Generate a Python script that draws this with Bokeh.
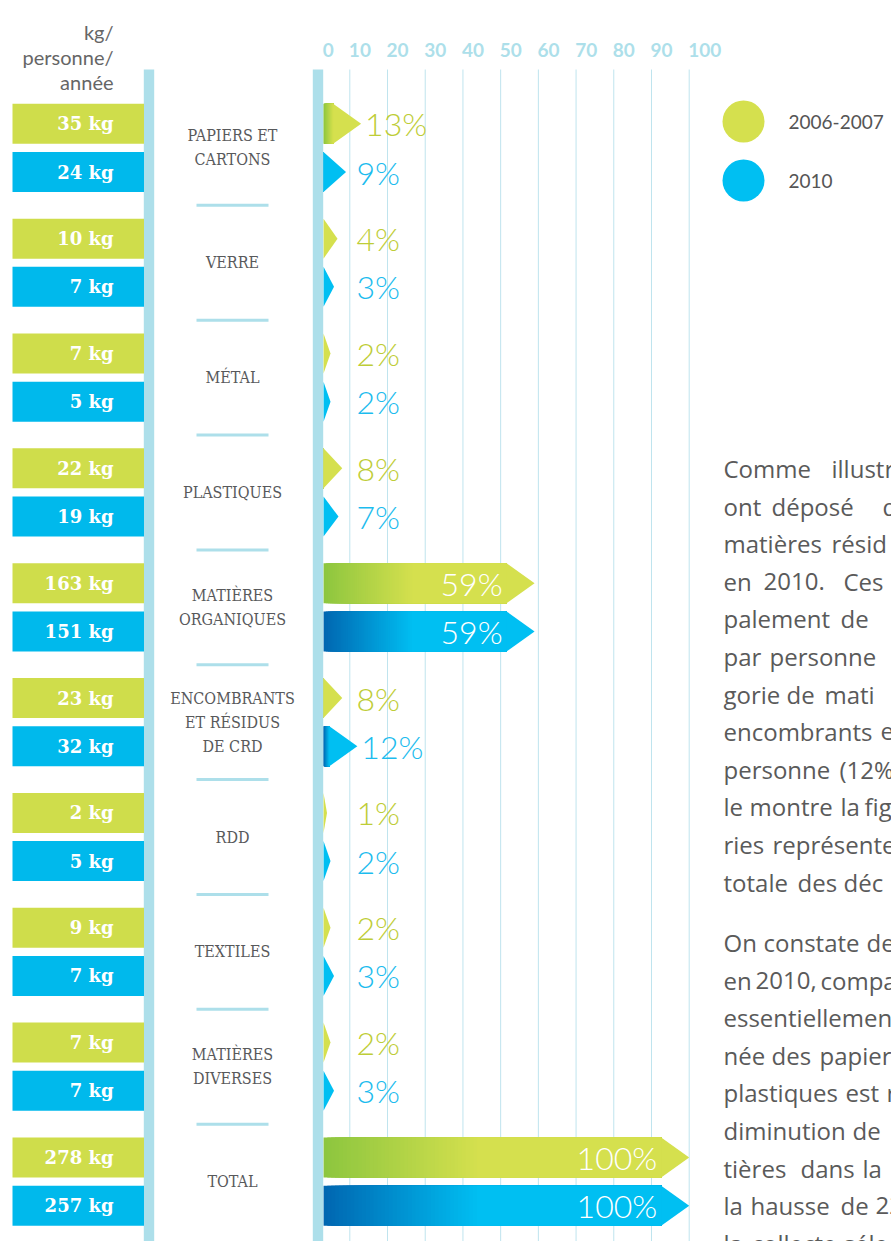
from bokeh.plotting import figure
from bokeh.models import Range1d, ColumnDataSource
from bokeh.core.properties import value
from bokeh.embed import file_html
from bokeh.resources import INLINE

# ---------------- data ----------------
categories = ["PAPIERS ET\nCARTONS", "VERRE", "MÉTAL", "PLASTIQUES",
              "MATIÈRES\nORGANIQUES", "ENCOMBRANTS\nET RÉSIDUS\nDE CRD",
              "RDD", "TEXTILES", "MATIÈRES\nDIVERSES", "TOTAL"]
kg_2006 = [35, 10, 7, 22, 163, 23, 2, 9, 7, 278]
kg_2010 = [24, 7, 5, 19, 151, 32, 5, 7, 7, 257]
pct_2006 = [13, 4, 2, 8, 59, 8, 1, 2, 2, 100]
pct_2010 = [9, 3, 2, 7, 59, 12, 2, 3, 3, 100]
tick_values = [0, 10, 20, 30, 40, 50, 60, 70, 80, 90, 100]
series_names = ["2006-2007", "2010"]
unit_lines = ["kg/", "personne/", "année"]
# visible part of the (page-cropped) paragraph
paragraph_1 = ["Comme illustr", "ont déposé d", "matières résid", "en 2010. Ces",
               "palement de", "par personne", "gorie de mati", "encombrants e",
               "personne (12%", "le montre la fig", "ries représente", "totale des déc"]
paragraph_2 = ["On constate de", "en 2010, compa", "essentiellemen",
               "née des papier", "plastiques est r", "diminution de",
               "tières dans la", "la hausse de 22", "la collecte séle"]

# ---------------- layout (screen pixels -> data units) ----------------
W, H, PAGE = 891, 1241, 0
X0_PX, SX = 311.6, 3.771          # screen x of value 0, px per percent
ROW0_PX, ROW_PX = 147.4, 114.85   # screen y of first category centre, px per row


def ux(px):
    return (px - X0_PX) / SX


def uy(py):
    return (ROW0_PX - py) / ROW_PX


BAR0 = ux(323)           # bars start right of the axis band
HEAD = 28 / SX           # arrow head length
OFF = 24.1 / ROW_PX      # offset of each series from category centre
BAR_H = 40 / ROW_PX
GRAD = 0.42
N_SLICES = 40

GREEN0, GREEN1 = (141, 198, 63), (213, 224, 78)
BLUE0, BLUE1 = (0, 103, 177), (0, 191, 242)
BAND = "#ADDFEA"
GRID = "#BFE4EE"
GRAY = "#58595B"


def hexc(c):
    return "#%02x%02x%02x" % tuple(int(round(v)) for v in c)


def lerp(c0, c1, t):
    return hexc([a + (b - a) * t for a, b in zip(c0, c1)])


def tip_of(v):
    # very small shares keep a minimum visible stub
    return v if v >= 5 else BAR0 + 0.93 * v


p = figure(width=W, height=H,
           x_range=Range1d(ux(PAGE), ux(PAGE + W)),
           y_range=Range1d(uy(PAGE + H), uy(PAGE)),
           output_backend="svg", toolbar_location=None,
           x_axis_location=None, y_axis_location=None, min_border=0)
p.grid.visible = False
p.outline_line_color = None
p.background_fill_color = "white"
p.border_fill_color = "white"

# grid lines
grid_top, grid_bot = uy(69), uy(PAGE + H + 5)
gx = [t for t in tick_values if t > 0]
p.segment(x0=gx, x1=gx, y0=[grid_top] * len(gx), y1=[grid_bot] * len(gx),
          line_color=GRID, line_width=1)

# bars with gradient (each slice overlaps all the following ones: no seams)
q = dict(left=[], right=[], top=[], bottom=[], color=[])
tri = dict(xs=[], ys=[], color=[])
lab = dict(x=[], y=[], text=[], color=[], align=[])
for i in range(len(categories)):
    for pcts, sign, c0, c1, tcol in ((pct_2006, 1, GREEN0, GREEN1, "#BECD37"),
                                     (pct_2010, -1, BLUE0, BLUE1, "#1CBCEE")):
        v = pcts[i]
        yc = -i + sign * OFF
        top, bot = yc + BAR_H / 2, yc - BAR_H / 2
        tip = tip_of(v)
        head = min(HEAD, tip - BAR0)
        sh = tip - head
        gend = min(sh, BAR0 + GRAD * (tip - BAR0))
        if sh > BAR0:
            q["left"].append(BAR0)
            q["right"].append(sh + 0.05)
            q["top"].append(top)
            q["bottom"].append(bot)
            q["color"].append(hexc(c0))
        if gend > BAR0:
            step = (gend - BAR0) / N_SLICES
            for k in range(1, N_SLICES + 1):
                q["left"].append(BAR0 + k * step)
                q["right"].append(sh + 0.05)
                q["top"].append(top)
                q["bottom"].append(bot)
                q["color"].append(lerp(c0, c1, k / N_SLICES))
        tri["xs"].append([sh, tip, sh])
        tri["ys"].append([top, yc, bot])
        tri["color"].append(hexc(c1))
        if v >= 50:
            lab["x"].append(tip - 32 / SX)
            lab["align"].append("right")
            lab["color"].append("white")
        else:
            lab["x"].append(max(ux(356), tip + 4 / SX))
            lab["align"].append("left")
            lab["color"].append(tcol)
        lab["y"].append(yc)
        lab["text"].append(f"{v}%")

p.quad(source=ColumnDataSource(q), left="left", right="right", top="top",
       bottom="bottom", fill_color="color", line_color=None)
p.patches(source=ColumnDataSource(tri), xs="xs", ys="ys", fill_color="color",
          line_color=None)

LIGHT = value("Lato Light, Roboto Light, Open Sans Light, Lato")
p.text(source=ColumnDataSource(lab), x="x", y="y", text="text",
       text_color="color", text_align="align", text_baseline="middle",
       text_font=LIGHT, text_font_size="32px")

# axis bands
p.quad(left=[ux(143.3), ux(312.3)], right=[ux(153.7), ux(322.7)],
       top=[uy(69)] * 2, bottom=[grid_bot] * 2, fill_color=BAND, line_color=None)

# tick labels
tx = [BAR0 - 0.2 if t == 0 else t - 0.25 for t in tick_values]
p.text(x=tx, y=[uy(49)] * len(tick_values), text=[str(t) for t in tick_values],
       text_color=BAND, text_font=value("Lato"), text_font_style="bold",
       text_font_size="19px", text_align="left", text_baseline="middle")

# kg boxes
n = len(categories)
ys_g = [-i + OFF for i in range(n)]
ys_b = [-i - OFF for i in range(n)]
p.quad(left=[ux(12)] * n, right=[ux(143.5)] * n,
       top=[y + BAR_H / 2 for y in ys_g], bottom=[y - BAR_H / 2 for y in ys_g],
       fill_color="#CFDD4B", line_color=None)
p.quad(left=[ux(12)] * n, right=[ux(143.5)] * n,
       top=[y + BAR_H / 2 for y in ys_b], bottom=[y - BAR_H / 2 for y in ys_b],
       fill_color="#00B9EC", line_color=None)
SLAB = value("DejaVu Serif Condensed, DejaVu Serif")
p.text(x=[ux(113)] * (2 * n), y=ys_g + ys_b,
       text=[f"{k} kg" for k in kg_2006] + [f"{k} kg" for k in kg_2010],
       text_color="white", text_font=value("DejaVu Serif"), text_font_style="bold",
       text_font_size="18px", text_align="right", text_baseline="middle")

# category labels
LINE = 24 / ROW_PX
cx, cy, ct = [], [], []
for i, c in enumerate(categories):
    parts = c.split("\n")
    m = len(parts)
    for k, s in enumerate(parts):
        cx.append(ux(232))
        cy.append(-i + ((m - 1) / 2 - k) * LINE)
        ct.append(s)
p.text(x=cx, y=cy, text=ct, text_color=GRAY, text_font=SLAB,
       text_font_size="16px", text_align="center", text_baseline="middle")

# separators
sy = [-i - 0.5 for i in range(n - 1)]
p.segment(x0=[ux(196)] * len(sy), x1=[ux(268)] * len(sy), y0=sy, y1=sy,
          line_color=BAND, line_width=3)

# unit header
p.text(x=[ux(113)] * 3, y=[uy(31), uy(56), uy(81)], text=unit_lines,
       text_color="#666666", text_font=value("Lato"), text_font_size="20px",
       text_align="right", text_baseline="alphabetic")

# legend
p.scatter(x=[ux(743)] * 2, y=[uy(121), uy(180)], size=42, marker="circle",
          fill_color=[hexc(GREEN1), hexc(BLUE1)], line_color=None)
p.text(x=[ux(788)] * 2, y=[uy(121), uy(180)], text=series_names,
       text_color="#555555", text_font=value("Lato"), text_font_size="19px",
       text_align="left", text_baseline="middle")

# paragraph (justified text, cut by the page edge)
word_x_1 = [[723, 831], [723, 771, 882], [723, 831], [723, 763, 843], [723, 840],
            [723, 769], [723, 786, 824], [723, 880], [723, 839], [723, 749, 840, 864],
            [723, 772], [723, 797, 843]]
word_x_2 = [[723, 763, 866], [723, 755, 820], [723], [723, 771, 819], [723, 845, 886],
            [723, 852], [723, 800, 862], [723, 750, 840, 875], [723, 751, 843]]
px_, py_, pt_ = [], [], []
for lines, xs_all, y0 in ((paragraph_1, word_x_1, 468), (paragraph_2, word_x_2, 942)):
    for k, (line, xs) in enumerate(zip(lines, xs_all)):
        for w, x in zip(line.split(" "), xs):
            px_.append(ux(x))
            py_.append(uy(y0 + k * 37.6))
            pt_.append(w)
p.text(x=px_, y=py_, text=pt_, text_color="#5A5A5A", text_font=value("Open Sans"),
       text_font_size="24px", text_align="left", text_baseline="middle")

open("out.html", "w").write(file_html(p, INLINE))
